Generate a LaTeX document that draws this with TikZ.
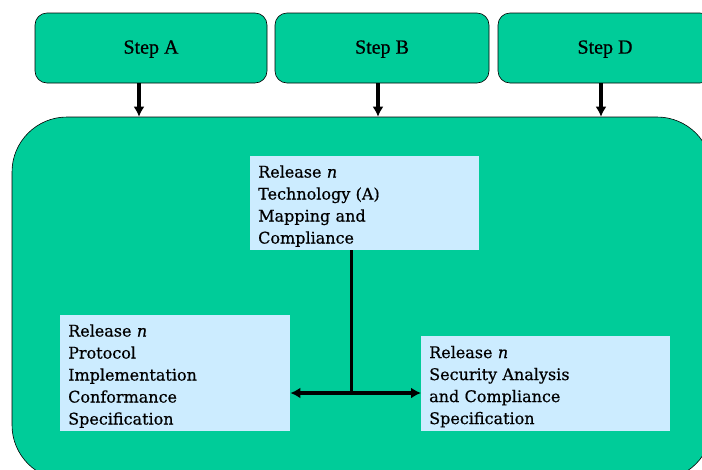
\documentclass[tikz,border=0pt]{standalone}
\usepackage{fontspec}
\setmainfont[FakeBold=0.6]{DejaVu Serif}
\newfontfamily\stepfont[FakeBold=0.8]{Liberation Serif}
\usetikzlibrary{arrows.meta,positioning,calc}
\definecolor{panelgreen}{RGB}{0,204,153}
\definecolor{notebg}{RGB}{204,236,255}
\newcommand{\toprule}{\rule{0pt}{18pt}}

\begin{document}
\begin{tikzpicture}[
    x=1pt, y=-1pt,
    font=\fontsize{16}{22}\selectfont,
    stepbox/.style={draw, line width=0.6pt, rounded corners=12pt, fill=panelgreen, minimum height=70pt, text depth=2pt, font=\stepfont\fontsize{20}{24}\selectfont},
    note/.style={fill=notebg, anchor=north west, align=left, inner xsep=8pt, text width=#1},
    arr/.style={-{Latex[length=10pt,width=11pt]}, line width=3.5pt},
    biarr/.style={{Latex[length=10pt,width=11pt]}-{Latex[length=10pt,width=11pt]}, line width=3.5pt}
  ]
    \useasboundingbox (0,0) rectangle (702,469);
    \clip (0,0) rectangle (702,469);
    \node[draw, line width=0.6pt, fill=panelgreen, rounded corners=55pt, minimum width=700pt, minimum height=363pt] (main) at (362,298.5) {};
    \node[stepbox, minimum width=232pt] (stepa) at (151,48) {Step A};
    \node[stepbox, minimum width=214pt] (stepb) at (382,48) {Step B};
    \node[stepbox, minimum width=214pt] (stepd) at (605,48) {Step D};
    \draw[arr] ([xshift=-12pt]stepa.south) -- ([xshift=-12pt]stepa.south |- main.north);
    \draw[arr] ([xshift=-4pt]stepb.south) -- ([xshift=-4pt]stepb.south |- main.north);
    \draw[arr] ([xshift=-4pt]stepd.south) -- ([xshift=-4pt]stepd.south |- main.north);
    \node[note=213pt, minimum height=94pt] (tech) at (250,156) {\toprule Release \textit{n}\\Technology (A)\\Mapping and\\Compliance};
    \node[note=214pt, minimum height=115pt] (proto) at (60,315) {\toprule Release \textit{n}\\Protocol\\Implementation\\Conformance\\Specification};
    \node[note=233pt, minimum height=95pt] (sec) at (421,336) {\toprule Release \textit{n}\\Security Analysis\\and Compliance\\Specification};
    \coordinate (split) at (351,393);
    \draw[line width=3pt] (tech.south -| split) -- (split);
    \draw[biarr] (proto.east |- split) -- (sec.west |- split);
  \end{tikzpicture}
\end{document}
